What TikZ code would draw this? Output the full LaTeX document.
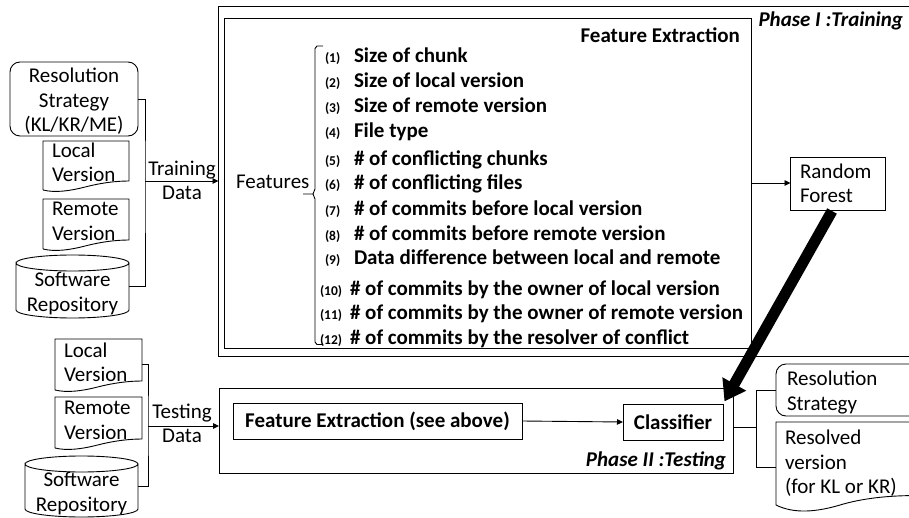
\documentclass[tikz,border=0pt]{standalone}
\usepackage{fontspec}
\setmainfont{Carlito}
\usetikzlibrary{arrows.meta}
\newcommand\docpath[4]{%
  \pgfmathsetmacro\dpw{#3-#1}%
  \draw[ln] (#1,#4) -- (#1,#2) -- (#3,#2) -- (#3,#4-9)
    .. controls ({#3-0.16*\dpw},#4-9) and ({#3-0.33*\dpw},#4-7) .. ({#1+0.49*\dpw},#4-3)
    .. controls ({#1+0.31*\dpw},#4+1) and ({#1+0.14*\dpw},#4+3) .. (#1,#4);}
\newcommand\cylpath[4]{%
  \pgfmathsetmacro\cyX{(#1+#3)/2}%
  \pgfmathsetmacro\cyR{(#3-#1)/2}%
  \pgfmathsetmacro\cyT{#2+8}%
  \pgfmathsetmacro\cyB{#4-8}%
  \draw[ln] (#1,\cyT) .. controls (#1,\cyT-4.4) and (\cyX-0.552*\cyR,#2) .. (\cyX,#2)
    .. controls (\cyX+0.552*\cyR,#2) and (#3,\cyT-4.4) .. (#3,\cyT)
    .. controls (#3,\cyT+4.4) and (\cyX+0.552*\cyR,\cyT+8) .. (\cyX,\cyT+8)
    .. controls (\cyX-0.552*\cyR,\cyT+8) and (#1,\cyT+4.4) .. (#1,\cyT)
    -- (#1,\cyB) .. controls (#1,\cyB+4.4) and (\cyX-0.552*\cyR,#4) .. (\cyX,#4)
    .. controls (\cyX+0.552*\cyR,#4) and (#3,\cyB+4.4) .. (#3,\cyB) -- (#3,\cyT);}
\begin{document}
\begin{tikzpicture}[x=1pt,y=-1pt,
  every node/.style={inner sep=0pt,outer sep=0pt},
  ln/.style={line width=0.9pt},
  box/.style={draw,ln},
  reg/.style={font=\fontsize{21}{24.5}\selectfont},
  bld/.style={font=\bfseries\fontsize{21}{24.5}\selectfont},
  bit/.style={font=\bfseries\itshape\fontsize{21}{24.5}\selectfont},
  num/.style={font=\bfseries\fontsize{13.5}{15}\selectfont},
  arr/.style={ln,-{Triangle[length=6pt,width=5.5pt]}},
  big/.style={line width=11pt,-{Triangle[length=20pt,width=26pt]}},
  area/.style={anchor=north west}
]
\useasboundingbox (0,0) rectangle (909,518);
\clip (0,0) rectangle (909,518);

% ---------- Phase I ----------
\node[box,area,minimum width=720,minimum height=350] (p1) at (218.5,6) {};
\node[box,area,minimum width=527,minimum height=330] (fe) at (224.5,18) {};
\node[bit,anchor=base east] (p1t) at (903,27) {Phase I :Training};
\node[bld,anchor=base east] (fet) at (740,43) {Feature Extraction};

\node[reg,anchor=base west] (feat) at (236,189) {Features};
\draw[ln] (323,46) -- (317,46) -- (315,48.5) -- (315,189)
  -- (313,194) -- (303,194) -- (313,194) -- (315,199) -- (315,342)
  -- (317,344.5) -- (323,344.5);

\node[num,anchor=base west] (n1) at (325,63) {(1)};
\node[bld,anchor=base west] (i1) at (354,63) {Size of chunk};
\node[num,anchor=base west] (n2) at (325,88) {(2)};
\node[bld,anchor=base west] (i2) at (354,88) {Size of local version};
\node[num,anchor=base west] (n3) at (325,113) {(3)};
\node[bld,anchor=base west] (i3) at (354,113) {Size of remote version};
\node[num,anchor=base west] (n4) at (325,138) {(4)};
\node[bld,anchor=base west] (i4) at (354,138) {File type};
\node[num,anchor=base west] (n5) at (325,166) {(5)};
\node[bld,anchor=base west] (i5) at (354,166) {\# of conflicting chunks};
\node[num,anchor=base west] (n6) at (325,190) {(6)};
\node[bld,anchor=base west] (i6) at (354,190) {\# of conflicting files};
\node[num,anchor=base west] (n7) at (325,216) {(7)};
\node[bld,anchor=base west] (i7) at (354,216) {\# of commits before local version};
\node[num,anchor=base west] (n8) at (325,241) {(8)};
\node[bld,anchor=base west] (i8) at (354,241) {\# of commits before remote version};
\node[num,anchor=base west] (n9) at (325,265) {(9)};
\node[bld,anchor=base west] (i9) at (354,265) {Data difference between local and remote};
\node[num,anchor=base west] (n10) at (320,295) {(10)};
\node[bld,anchor=base west] (i10) at (350,295) {\# of commits by the owner of local version};
\node[num,anchor=base west] (n11) at (320,319) {(11)};
\node[bld,anchor=base west] (i11) at (350,319) {\# of commits by the owner of remote version};
\node[num,anchor=base west] (n12) at (320,344) {(12)};
\node[bld,anchor=base west] (i12) at (350,344) {\# of commits by the resolver of conflict};

\node[box,area,minimum width=95,minimum height=53] (rf) at (790.5,157) {};
\node[reg,align=left,anchor=west] (rft) at (800,183.5) {Random\\Forest};
\draw[arr] (fe.east) -- (fe.east -| rf.west);

% ---------- training inputs ----------
\node[box,area,rounded corners=10pt,minimum width=128,minimum height=74] (rs1) at (10,62) {};
\node[reg,align=center] (rs1t) at (74,101.5) {Resolution\\Strategy\\(KL/KR/ME)};
\docpath{43}{141}{129}{190}
\node[area,minimum width=86,minimum height=49] (lv1) at (43,141) {};
\node[reg,align=left,anchor=west] (lv1t) at (52,162.5) {Local\\Version};
\docpath{43}{199}{129}{249}
\node[area,minimum width=86,minimum height=50] (rv1) at (43,199) {};
\node[reg,align=left,anchor=west] (rv1t) at (52,221.5) {Remote\\Version};
\cylpath{16}{255}{129}{318}
\node[area,minimum width=113,minimum height=63] (sw1) at (16,255) {};
\node[reg,align=center] (sw1t) at (72.5,293.5) {Software\\Repository};

\coordinate (tj) at (145,181);
\draw[ln] (rs1.east) -| (tj) |- (sw1.east);
\draw[arr] (tj) -- (tj -| p1.west);
\node[reg,align=center] (trn) at (182,180.5) {Training\\Data};

% ---------- Phase II ----------
\node[box,area,minimum width=514,minimum height=85] (p2) at (219,388.5) {};
\node[box,bld,minimum width=289,minimum height=36] (fe2) at (377.5,421) {Feature Extraction (see above)};
\node[box,bld,minimum width=100,minimum height=36] (cls) at (673,422) {Classifier};
\draw[arr] (fe2.east) -- (cls.west);
\node[bit,anchor=base east] (p2t) at (726,466) {Phase II :Testing};

\coordinate (bs) at (832,211);
\draw[big,shorten >=3pt] (bs) -- (cls.north east);

% ---------- testing inputs ----------
\docpath{55}{339}{142}{390}
\node[area,minimum width=87,minimum height=51] (lv2) at (55,339) {};
\node[reg,align=left,anchor=west] (lv2t) at (64,362.5) {Local\\Version};
\docpath{55}{397}{142}{448}
\node[area,minimum width=87,minimum height=51] (rv2) at (55,397) {};
\node[reg,align=left,anchor=west] (rv2t) at (64,420.5) {Remote\\Version};
\cylpath{25}{456}{138}{517}
\node[area,minimum width=113,minimum height=61] (sw2) at (25,456) {};
\node[reg,align=center] (sw2t) at (81.5,493.5) {Software\\Repository};

\coordinate (sj) at (148,426);
\draw[ln] (lv2.east) -| (sj) |- (sw2.east);
\draw[arr] (sj) -- (sj -| p2.west);
\node[reg,align=center] (tst) at (182,423.5) {Testing\\Data};

% ---------- outputs ----------
\node[box,area,rounded corners=10pt,minimum width=160,minimum height=52] (rs2) at (776,364) {};
\node[reg,align=left,anchor=west] (rs2t) at (787,392.5) {Resolution\\Strategy};
\draw[ln] (776,505) .. controls (790,512) and (810,514) .. (840,505)
  .. controls (860,499) and (890,494) .. (936,496) -- (936,422) -- (776,422) -- cycle;
\node[area,minimum width=160,minimum height=90] (rv) at (776,422) {};
\node[reg,align=left,anchor=west] (rvt) at (785,463.5) {Resolved\\version\\(for KL or KR)};

\coordinate (jo) at (756,427);
\draw[ln] (p2.east |- jo) -- (jo);
\draw[ln] (rs2.west) -| (jo) |- (rv.west);
\end{tikzpicture}
\end{document}
